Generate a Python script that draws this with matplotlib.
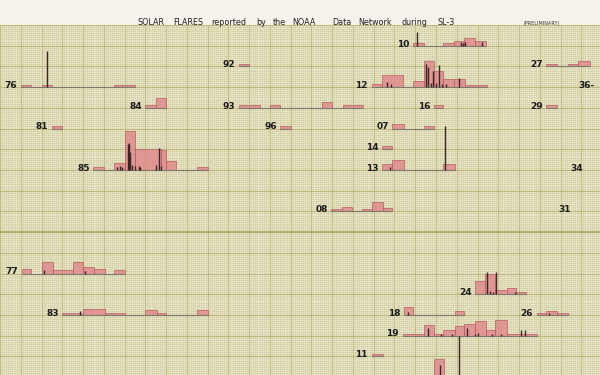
import matplotlib
matplotlib.use("Agg")
import matplotlib.pyplot as plt
import numpy as np

# x in half-squares of the graph paper, y in squares (rows, counted from the top)
labels = ["76", "92", "84", "81", "85", "93", "96", "10", "12", "27", "36-",
          "16", "29", "07", "14", "13", "34", "08", "31", "24", "18", "26",
          "19", "11", "", "77", "83"]
rows = [3, 2, 4, 5, 7, 4, 5, 1, 3, 2, 3,
        4, 4, 5, 6, 7, 7, 9, 9, 13, 14, 14,
        15, 16, 17, 12, 14]
line_start = [2, 23, 14, 5, 9, 23, 27, 39.8, 35.8, 52.6, 57.6,
              41.8, 52.6, 37.8, 36.8, 36.8, 56.5, 31.9, 55.35, 45.8, 38.9, 51.7,
              38.8, 35.8, 41.8, 2.1, 6]
line_end = [13, 24, 16, 6, 20, 35, 28, 46.8, 46.9, 56.8, 57.6,
            42.7, 53.7, 41.8, 37.8, 43.8, 56.5, 37.8, 55.35, 50.7, 44.7, 54.7,
            51.7, 36.9, 44.5, 12, 20]

# (left, right, height)
bars = [
    [(2, 3, .12), (4, 5, .12), (11, 13, .12)],
    [(23, 24, .12)],
    [(14, 15, .12), (15, 16, .47)],
    [(5, 6, .12)],
    [(9, 10, .12), (11, 12, .33), (12, 13, 1.9), (13, 15.5, 1.0), (15.5, 16, .95),
     (16, 17, .45), (19, 20, .12)],
    [(23, 25, .12), (26, 27, .12), (31, 32, .3), (33, 35, .12)],
    [(27, 28, .12)],
    [(39.8, 40.8, .12), (42.7, 43.7, .12), (43.7, 44.7, .25), (44.7, 45.8, .38),
     (45.8, 46.8, .25)],
    [(35.8, 36.8, .15), (36.8, 38.8, .6), (39.8, 40.8, .3), (40.8, 41.8, 1.27),
     (41.8, 42.7, .8), (42.7, 43.7, .4), (43.7, 44.8, .4), (44.8, 46.9, .12)],
    [(52.6, 53.7, .12), (54.7, 55.7, .12), (55.7, 56.8, .25)],
    [],
    [(41.8, 42.7, .12)],
    [(52.6, 53.7, .15)],
    [(37.8, 38.9, .2), (40.8, 41.8, .12)],
    [(36.8, 37.8, .15)],
    [(36.8, 37.8, .3), (37.8, 38.9, .5), (42.7, 43.8, .3)],
    [],
    [(31.9, 32.9, .12), (32.9, 33.9, .2), (34.9, 35.8, .12), (35.8, 36.9, .45),
     (36.9, 37.8, .15)],
    [],
    [(45.8, 46.7, .65), (46.7, 47.7, 1.0), (47.7, 48.8, .2), (48.8, 49.7, .3),
     (49.7, 50.7, .1)],
    [(38.9, 39.8, .4), (43.8, 44.7, .2)],
    [(51.7, 52.6, .1), (52.6, 53.7, .2), (53.7, 54.7, .1)],
    [(38.8, 40.8, .1), (40.8, 41.8, .5), (41.8, 42.7, .1), (42.7, 43.8, .25),
     (43.8, 44.7, .45), (44.7, 45.8, .55), (45.8, 46.8, .7), (46.8, 47.7, .25),
     (47.7, 48.8, .75), (48.8, 51.7, .1)],
    [(35.8, 36.9, .12)],
    [(41.8, 42.8, .85)],
    [(2.1, 3, .2), (4.05, 5.1, .55), (5.1, 7, .15), (7, 8, .55), (8, 9.05, .3),
     (9.05, 10.1, .2), (11, 12, .15)],
    [(6, 8, .1), (8, 10.1, .3), (10.1, 12, .1), (14, 15.1, .25), (15.1, 16, .1),
     (19, 20, .25)],
]

# (x, height) of the black flare ticks
spikes = [
    [(4.5, 1.75)],
    [], [], [],
    [(11.3, .15), (11.6, .2), (11.8, .15), (12.3, 1.25), (12.45, 1.3), (12.55, .85),
     (12.7, .25), (13.0, .2), (13.4, .2), (13.5, .15), (15.0, .25), (15.3, 1.05),
     (15.55, .2)],
    [], [],
    [(40.2, .66), (44.4, .2), (44.6, .15), (44.8, .2), (46.4, .2)],
    [(37.3, .25), (37.7, .15), (41.0, 1.13), (41.2, .95), (41.5, .2), (41.7, .8),
     (42.0, .2), (42.3, 1.08), (42.6, .15), (43.0, .15), (44.2, .42)],
    [], [], [], [], [], [],
    [(37.6, .15), (42.9, 2.1)],
    [], [], [],
    [(46.9, 1.05), (47.2, .15), (47.5, .1), (47.8, 1.05), (49.6, .1)],
    [(39.3, .15)],
    [(52.9, .1)],
    [(41.2, .35), (42.5, .1), (43.5, .1), (45.0, .35), (45.8, .1), (46.0, .15),
     (47.4, .1), (48.3, .1), (50.2, .25), (50.6, .25)],
    [],
    [(42.4, .6), (44.2, 2.0)],
    [(4.25, .15), (8.2, .1)],
    [(7.7, .2)],
]

title_words = ["SOLAR", "FLARES", "reported", "by", "the", "NOAA", "Data",
               "Network", "during", "SL-3"]
title_x = [137, 173, 211, 256, 273, 292, 332, 358, 401, 437]

fig = plt.figure(figsize=(6, 3.75), dpi=100)
fig.patch.set_facecolor("#f4f2ea")
ax = fig.add_axes([0, 0, 1, 350 / 375])
ax.set_facecolor("#ebe8d0")
ax.set_xlim(0, 600 / 10.6)
ax.set_ylim(350 / 21.2, 0)

# graph paper
ax.set_xticks(np.arange(0, 58, 2))
ax.set_xticks(np.arange(0, 58, 0.2), minor=True)
ax.set_yticks(np.arange(0, 17, 1))
ax.set_yticks(np.arange(0, 17, 0.1), minor=True)
ax.grid(which="minor", color="#d0cd9c", lw=0.4)
ax.grid(which="major", color="#bdb97a", lw=0.8)
ax.axhline(10, color="#a9a560", lw=1.1)
ax.tick_params(which="both", length=0, labelbottom=False, labelleft=False)
for s in ax.spines.values():
    s.set_visible(False)
ax.set_axisbelow(True)

for lab, r, x0, x1, bb, sp in zip(labels, rows, line_start, line_end, bars, spikes):
    if x1 > x0:
        ax.hlines(r, x0, x1, color="#7d7868", lw=0.8, zorder=3)
    for left, right, h in bb:
        ax.bar(left, -h, width=right - left, bottom=r, align="edge",
               color="#e0868a", alpha=0.8, edgecolor="#b8585c", lw=0.6, zorder=2)
    for x, h in sp:
        ax.vlines(x, r, r - h, color="#3a2626", lw=1.0, zorder=4)
    ax.text(x0 - 0.35, r - 0.08, lab, ha="right", va="center",
            fontsize=6.5, fontweight="bold", color="#1a1a1a", zorder=5)

for w, x in zip(title_words, title_x):
    fig.text(x / 600, 1 - 25 / 375, w, ha="left", va="baseline",
             fontsize=5.8, color="#222222")
fig.text(524 / 600, 1 - 25 / 375, "(PRELIMINARY)", ha="left", va="baseline",
         fontsize=3.5, color="#333333")

fig.savefig("out.png", dpi=100, facecolor=fig.get_facecolor())
